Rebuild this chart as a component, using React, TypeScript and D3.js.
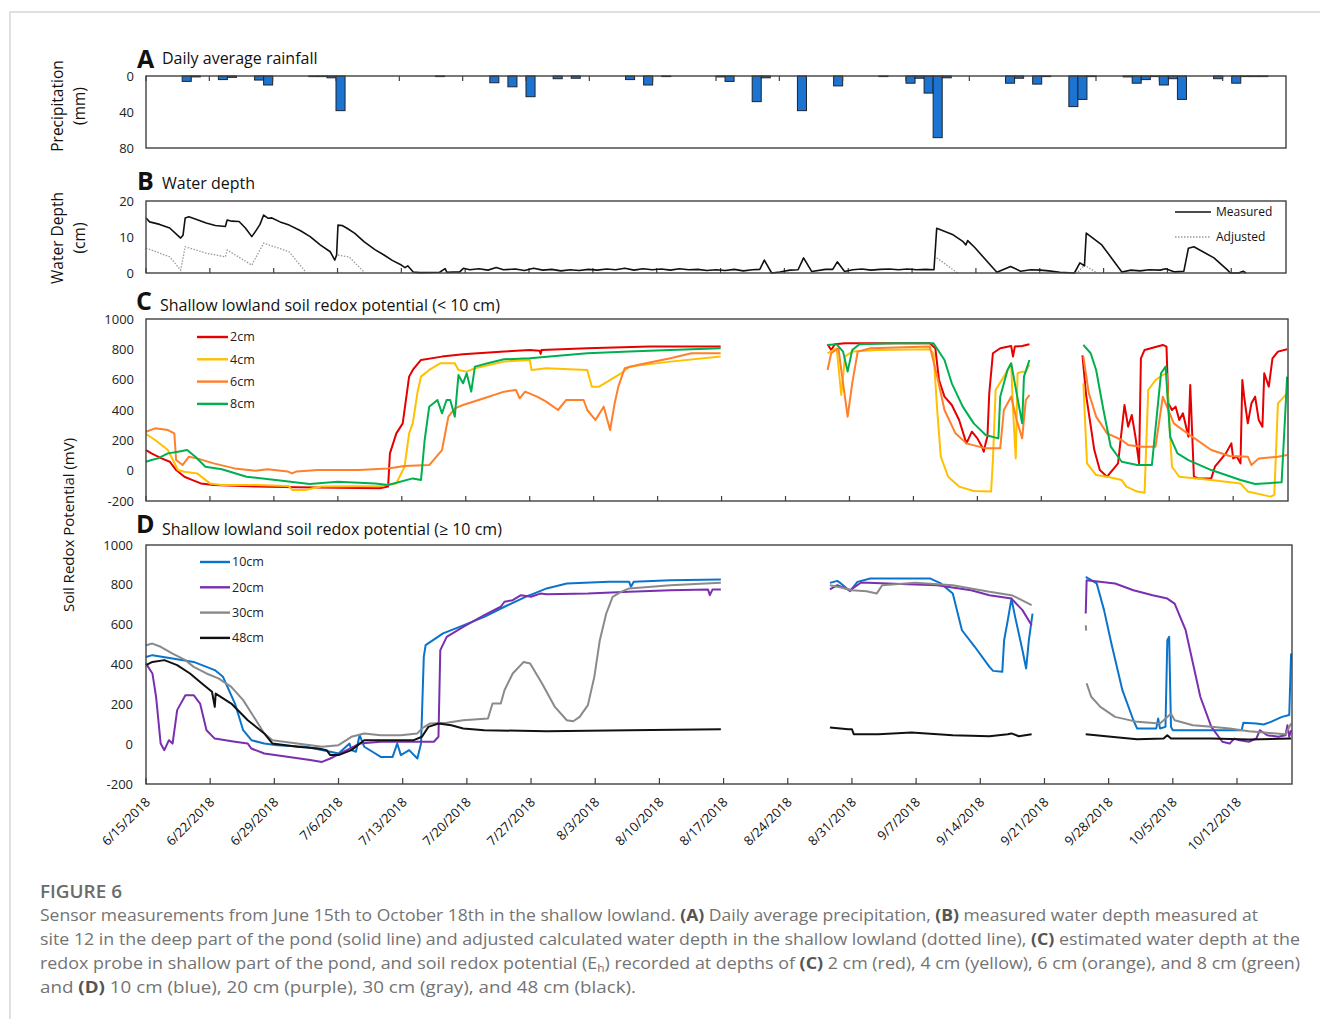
import React from "react";
import * as d3 from "d3";

// ---- time base -------------------------------------------------------------
const START = new Date(2018, 5, 15);
const dayToDate = (d: number) => new Date(START.getTime() + d * 86400000);
const END_A = dayToDate(126);
const END = dayToDate(125);

// weekly date labels under the bottom panel
const tickLabels = [
  "6/15/2018", "6/22/2018", "6/29/2018", "7/6/2018", "7/13/2018", "7/20/2018",
  "7/27/2018", "8/3/2018", "8/10/2018", "8/17/2018", "8/24/2018", "8/31/2018",
  "9/7/2018", "9/14/2018", "9/21/2018", "9/28/2018", "10/5/2018", "10/12/2018",
];
const parseLabel = (s: string) => {
  const [m, d, y] = s.split("/").map(Number);
  return new Date(y, m - 1, d);
};

// ---- A: daily rainfall (day offset from 6/15, mm) -------------------------
const rainDays = [4, 5, 8, 9, 12, 13, 18, 19, 20, 21, 32, 38, 40, 42, 45, 47, 53, 55, 57, 63, 64, 67, 68, 72, 76, 81, 84, 85, 86, 87, 88, 95, 96, 98, 99, 102, 103, 104, 108, 109, 110, 111, 112, 113, 114, 118, 120, 121, 122, 123];
const rainMm = [6, 1, 4, 1.5, 4.5, 10, 0.5, 0.5, 2, 38.5, 0.5, 7.5, 12, 23, 3, 2.5, 4, 10, 0.5, 1, 6, 28.5, 2, 38.5, 11, 0.5, 8, 2.5, 19, 68.5, 2, 8, 2.5, 9, 0.5, 34, 26, 0.5, 1, 8, 4, 0.5, 10, 3, 26, 3, 8, 0.5, 0.5, 0.5];
const rainTicks = [0, 40, 80];

// ---- B: water depth (day offset, cm); null breaks a line ------------------
type Pt = [number, number] | null;
const depthMeasured: Pt[] = [
  [0, 15.3], [0.4, 14.2], [1.5, 13.5], [2.6, 12.5], [3.8, 9.7], [4.06, 10.5], [4.3, 15.3], [4.7, 15.6], [5.4, 15.0],
  [6.6, 13.9], [7.6, 13.2], [8.7, 12.9], [8.9, 14.7], [9.4, 14.4], [10.2, 14.3], [10.9, 12.5], [11.6, 10.1], [12.1, 11.9],
  [12.5, 13.5], [12.9, 16.1], [13.4, 15.2], [13.8, 15.3], [14.7, 14.2], [15.7, 13.3], [16.9, 11.8], [18, 10.1],
  [19.1, 7.8], [20.2, 5.9], [20.7, 3.6], [20.9, 5], [21.05, 13.3], [21.5, 13.2], [22, 12.5], [22.9, 11.0], [23.9, 8.7],
  [25.1, 6.5], [26.1, 5], [27, 3.5], [28, 2.2], [28.4, 1.5], [28.7, 2.0], [29.3, 0.3], [30, 0.1], [32.2, 0.2],
  [32.8, 1.2], [33, 0.2], [34.4, 0.3], [34.8, 1.3], [35.5, 0.9], [36.5, 1.2], [37.5, 0.8], [38.4, 1.5], [39.2, 0.9],
  [40.5, 1.1], [41.5, 0.7], [42.5, 1.3], [43.5, 0.8], [44.5, 1.0], [45.5, 0.6], [46.5, 0.9], [47.5, 0.7], [48.5, 1.0],
  [49.5, 0.8], [50.5, 1.1], [51.5, 0.9], [52.5, 1.3], [53.5, 0.8], [54.5, 1.2], [55.5, 0.9], [56.5, 1.1], [57.5, 0.8],
  [58.5, 1.2], [59.5, 0.9], [60.5, 1.0], [61.5, 0.7], [62.5, 0.9], [63.5, 0.7], [64.5, 1.0], [65.5, 0.6], [66.5, 0.9],
  [67.3, 1.0], [67.8, 3.6], [68.6, 0], [69.5, 0.3], [70.6, 0.8], [71.5, 0.9], [72.1, 4.2], [73, 0.4], [74.5, 1.0],
  [75.3, 1.0], [75.8, 3.1], [76.6, 0.4], [77.5, 0.9], [78.5, 1.1], [79.5, 0.8], [80.5, 1.0], [81.5, 1.1], [82.5, 0.9],
  [83.5, 1.1], [84.5, 0.9], [85.5, 1.0], [86.4, 0.9], [86.7, 12.4], [88.5, 10.6], [89.6, 8.7], [89.9, 7.8], [90.1, 9.0],
  [90.9, 7.0], [92.9, 1.3], [93.3, 0.2], [94.8, 1.8], [95.9, 0.5], [97, 0.9], [98.1, 0.8], [99, 0.6], [100.2, 0.2],
  [101.8, 0], [102.4, 2.8], [102.9, 2.0], [103.1, 11.1], [104.8, 7.8], [107, 0.3], [108, 0.8], [109, 0.6], [110, 0.9],
  [111.2, 0.8], [111.8, 1.2], [112.8, 0.3], [113.8, 0.5], [114.3, 6.9], [114.9, 7.3], [117.1, 4.2], [118.6, 0.8],
  [118.9, 0], [119.8, 0], [120.3, 0.5], [120.6, 0],
];
const depthAdjusted: Pt[] = [
  [0, 6.9], [1, 6.0], [2.6, 4.5], [3.8, 0.8], [4.3, 7.3], [6.6, 5.5], [8.7, 4.5], [8.9, 6.4], [11.6, 2.2], [12.9, 8.3],
  [15.7, 5.9], [17.5, 0.3], null, [21.05, 5.0], [22.3, 4.4], [23.9, 0.3], null,
  [86.7, 4.2], [89, 0], null, [102.2, 0.3], [102.9, 2.2], [104.3, 0],
];
const depthTicks = [0, 10, 20];

// ---- C: redox potential < 10 cm (day offset, mV) --------------------------
const redox2cm: Pt[] = [
  [0, 136], [0.6, 114], [1.7, 81], [2.6, 59], [3.3, 4], [4.2, -40], [5.1, -62], [6, -84], [7.4, -95], [12, -105],
  [16.5, -110], [21, -112], [25.6, -116], [26.5, -105], [26.7, 114], [27.4, 246], [28.1, 312], [28.8, 620], [29.2, 664],
  [30.1, 730], [32.4, 752], [34.7, 767], [39.2, 785], [42, 796], [43.1, 790], [43.2, 770], [43.3, 795], [48.3, 807],
  [55.1, 818], [62.9, 818], null,
  [74.6, 833], [75, 796], [75.4, 833], [76.5, 840], [80.1, 840], [85.8, 840], [86.4, 807], [86.8, 598], [87.4, 488],
  [88.2, 433], [89, 334], [89.8, 180], [90.4, 257], [91, 213], [91.5, 158], [91.7, 125], [91.9, 180], [92.1, 224],
  [92.3, 510], [92.7, 774], [93.5, 807], [94.7, 822], [94.9, 752], [95.1, 818], [95.9, 822], [96.7, 833], null,
  [102.5, 760], [102.9, 500], [103.8, 136], [104.4, 4], [105.2, -40], [106.4, 48], [107.1, 433], [107.5, 290],
  [107.9, 367], [108.3, 224], [108.7, 48], [108.9, 741], [109.3, 796], [111.3, 829], [111.7, 818], [111.9, 444],
  [112.3, 400], [112.7, 422], [113.1, 334], [113.5, 378], [114.1, 224], [114.3, 565], [114.7, -40], [115.2, -51],
  [116.6, -51], [117, 26], [118.2, 114], [118.8, 180], [119, 81], [119.4, 92], [119.8, 48], [120, 598], [120.2, 488],
  [120.6, 312], [121, 444], [121.4, 488], [121.8, 334], [122.2, 290], [122.4, 642], [122.9, 554], [123.3, 741],
  [123.9, 785], [124.9, 800],
];
const redox4cm: Pt[] = [
  [0, 242], [1, 202], [2.4, 136], [3.5, 4], [4.2, -7], [5.6, -18], [7, -84], [8.3, -95], [12, -95], [15.6, -101],
  [16, -127], [17.4, -127], [19.2, -105], [25.6, -101], [27.4, -84], [28.3, 26], [28.8, 246], [29.2, 312], [29.7, 510],
  [30.1, 620], [31, 664], [32.2, 708], [33.8, 708], [34.2, 664], [35.1, 653], [36, 675], [39.2, 719], [42, 730],
  [42.2, 664], [43.8, 675], [48.3, 664], [48.8, 554], [49.6, 554], [52, 642], [52.9, 686], [57.4, 719], [62.9, 752], null,
  [74.6, 774], [75.6, 807], [76.1, 499], [76.3, 620], [76.5, 752], [77.3, 785], [80.1, 796], [85.8, 800], [86.2, 774],
  [86.6, 400], [87, 92], [87.8, -40], [89, -105], [90.6, -134], [92.5, -138], [92.7, 70], [93, 532], [93.9, 620],
  [94.7, 708], [94.9, 400], [95.2, 81], [95.4, 642], [95.9, 653], [96.3, 653], [96.7, 700], null,
  [102.6, 576], [103, 48], [104, -29], [105.2, -40], [106.8, -62], [107.3, -105], [108.5, -138], [109.3, -145],
  [109.7, 532], [110.5, 598], [111.3, 631], [111.7, 642], [112.3, 26], [113.1, -40], [116.6, -62], [119.8, -84],
  [120.6, -138], [123.1, -171], [123.5, -160], [123.9, 444], [124.9, 510],
];
const redox6cm: Pt[] = [
  [0, 257], [1, 279], [2.4, 268], [3.1, 246], [3.3, 70], [4, 37], [4.7, 92], [5.6, 81], [7.4, 48], [9.7, 15], [12, 0],
  [13.3, 9], [15.5, -5], [16, -18], [16.5, -5], [18.8, 4], [23.3, 4], [26.5, 15], [28.3, 31], [31, 37], [32.4, 136],
  [33.1, 356], [33.8, 411], [34.7, 433], [37, 477], [39.2, 521], [40.5, 532], [40.9, 477], [41.5, 521], [42.8, 488],
  [43.8, 455], [45.1, 400], [46, 466], [47.9, 466], [48.3, 400], [49.2, 334], [50.1, 422], [50.8, 268], [51.3, 444],
  [51.7, 554], [52.4, 675], [53.8, 697], [57.4, 741], [59.7, 774], [62.9, 774], null,
  [74.6, 664], [75, 774], [75.8, 807], [76.1, 664], [76.8, 356], [77.3, 576], [77.9, 785], [79.3, 807], [85.8, 818],
  [86.6, 620], [87.4, 400], [88.6, 246], [89.8, 180], [91.9, 147], [93.5, 147], [93.9, 400], [94.7, 488], [95.3, 334],
  [95.9, 213], [96.3, 466], [96.7, 499], null,
  [102.6, 752], [103.2, 510], [104, 356], [105.2, 246], [106.8, 202], [107.5, 169], [108.9, 158], [110.5, 158],
  [111.3, 488], [112.5, 312], [114.5, 224], [116.6, 136], [118.6, 97], [120.6, 92], [121, 37], [121.8, 81],
  [123.9, 92], [124.9, 103],
];
const redox8cm: Pt[] = [
  [0, 59], [0.6, 70], [1.3, 81], [2.4, 114], [3.5, 125], [4.5, 136], [5.4, 92], [6.5, 26], [8.3, 9], [11, -40],
  [14.2, -62], [17.9, -88], [21, -73], [25.1, -84], [26.5, -95], [29.2, -51], [30.1, -62], [30.5, 202], [31, 422],
  [31.9, 466], [32.4, 378], [32.9, 466], [33.3, 466], [33.8, 356], [34.2, 631], [34.7, 576], [35.1, 642], [35.6, 521],
  [36, 686], [37.4, 708], [39.2, 734], [42, 741], [48.3, 774], [52.9, 785], [57.4, 796], [62.9, 807], null,
  [74.6, 829], [75.6, 833], [76.3, 785], [76.8, 653], [77.3, 796], [78.1, 833], [82.1, 840], [86.2, 840], [87.4, 730],
  [88.2, 576], [89.4, 422], [90.6, 312], [91.9, 235], [93.3, 213], [93.5, 488], [94.3, 664], [94.7, 708], [95.1, 576],
  [95.9, 312], [96.1, 620], [96.7, 730], null,
  [102.6, 829], [103.4, 774], [104, 664], [104.8, 400], [105.6, 158], [106.8, 59], [108.5, 37], [110.1, 37],
  [111.1, 642], [111.6, 686], [112.1, 224], [112.9, 114], [114.1, 70], [116.6, 4], [119.8, -62], [121.4, -88],
  [124.3, -77], [124.7, 378], [124.9, 620],
];

// ---- D: redox potential >= 10 cm (day offset, mV) -------------------------
const redox10cm: Pt[] = [
  [0, 438], [0.7, 447], [2.9, 430], [5.2, 413], [7.5, 372], [8.4, 338], [9.7, 204], [10.6, 70], [11.5, 20], [12.9, 3],
  [14.3, -5], [17.4, -13], [20.1, -38], [21, -47], [22.2, 3], [22.4, -30], [22.9, -38], [23.3, 45], [23.8, -13],
  [24.7, -38], [25.6, -64], [26.9, -64], [27.4, 3], [27.8, -55], [28.7, -30], [29.6, -72], [30, 3], [30.3, 438],
  [30.5, 497], [32.4, 556], [34.2, 589], [36.9, 639], [39.1, 690], [41.4, 740], [42.3, 756], [43.7, 782], [45.9, 807],
  [50.5, 815], [52.7, 815], [52.9, 790], [53.2, 815], [57.2, 823], [62.7, 827], null,
  [74.6, 810], [75.4, 820], [75.8, 807], [76.8, 768], [77.6, 815], [79, 832], [85.5, 832], [86.7, 807], [88, 756],
  [89, 572], [90.4, 489], [92, 388], [92.4, 368], [93.4, 363], [93.6, 522], [94, 623], [94.4, 731], [94.8, 639],
  [95.6, 472], [96, 380], [96.3, 522], [96.7, 656], null,
  [102.5, 840], [103.7, 807], [104.5, 673], [105.3, 505], [106.5, 271], [107.7, 120], [108.1, 79], [110.2, 79],
  [110.4, 129], [110.6, 79], [111.2, 87], [111.4, 522], [111.6, 539], [111.8, 87], [112, 70], [119.5, 70], [119.7, 107],
  [121.1, 104], [121.9, 99], [122.7, 112], [123.9, 137], [124.7, 146], [124.9, 455],
];
const redox20cm: Pt[] = [
  [0, 405], [0.7, 355], [1.1, 238], [1.6, 3], [2, -30], [2.5, 20], [2.9, 3], [3.4, 171], [4.3, 246], [5.2, 246],
  [5.9, 204], [6.6, 70], [7.5, 28], [9.7, 12], [11.1, 3], [11.5, -22], [12.9, -47], [15.6, -64], [17.9, -80],
  [19.2, -89], [20.1, -72], [21.9, -30], [23.3, 3], [25.6, 12], [31.4, 12], [31.9, 37], [32.1, 472], [32.8, 539],
  [34.6, 589], [36.9, 648], [38.7, 690], [39.1, 715], [40, 723], [40.9, 748], [42, 740], [43, 756], [43.7, 753],
  [48.2, 756], [52.7, 765], [57.2, 773], [61.3, 777], [61.5, 748], [61.8, 777], [62.7, 777], null,
  [74.6, 777], [75.4, 798], [76.8, 773], [78, 812], [83.1, 803], [86.3, 798], [90, 773], [92, 748], [94.4, 731],
  [95.6, 673], [96.6, 597], null,
  [102.5, 656], [102.6, 823], [105.7, 807], [107.7, 773], [109.8, 748], [111.4, 731], [112.2, 706], [113.4, 572],
  [114.2, 405], [115, 238], [116.2, 87], [117.4, 12], [118.2, 3], [118.7, 28], [119.3, 20], [120.3, 12], [121.1, 28],
  [121.5, 70], [122.3, 45], [123.5, 37], [124.3, 45], [124.5, 95], [124.7, 37], [124.9, 70],
];
const redox30cm: Pt[] = [
  [0, 497], [0.7, 505], [1.6, 489], [2.9, 455], [4.3, 422], [5.2, 388], [6.6, 355], [7.9, 330], [9.3, 288],
  [10.6, 221], [12, 120], [12.9, 54], [13.8, 20], [16.5, 3], [19.2, -13], [21, -5], [22.4, 37], [23.8, 54], [25.6, 45],
  [27.8, 45], [29.6, 54], [30.1, 79], [31, 104], [32.8, 107], [34.6, 120], [37.3, 129], [37.8, 204], [38.7, 204],
  [39.1, 271], [40, 355], [41.2, 413], [41.9, 405], [43.2, 305], [44.6, 187], [45.9, 120], [46.6, 115], [47.3, 137],
  [48.2, 196], [48.9, 338], [49.5, 522], [50.2, 656], [50.9, 740], [51.8, 765], [52.7, 782], [57.2, 798], [62.7, 810], null,
  [74.6, 798], [75.8, 787], [77, 773], [78.6, 768], [79.7, 756], [80.3, 798], [83.9, 810], [88, 798], [92, 765],
  [94.4, 748], [95.2, 731], [96.6, 698], null,
  [102.5, 597], [102.55, 570], null,
  [102.6, 305], [103.1, 238], [104.1, 187], [105.7, 137], [108.1, 112], [110.6, 104], [111.4, 137], [111.8, 154],
  [112.2, 120], [114.2, 95], [116.2, 87], [118.2, 79], [120.3, 65], [122.3, 57], [124.3, 50], [124.9, 104],
];
const redox48cm: Pt[] = [
  [0, 397], [0.7, 413], [2, 422], [3.4, 397], [4.8, 355], [6.1, 305], [7.2, 263], [7.5, 187], [7.6, 254], [9.3, 204],
  [11.1, 120], [12.9, 54], [13.8, 3], [16.5, -13], [18.8, -22], [19.7, -30], [20.1, -55], [21, -55], [22.4, -30],
  [23.8, 20], [25.6, 20], [29.2, 20], [30.1, 37], [30.8, 87], [31.9, 104], [33.3, 95], [34.6, 79], [36.9, 70],
  [43.7, 65], [52.7, 70], [62.7, 75], null,
  [74.6, 84], [76.6, 75], [77, 75], [77.2, 50], [79.9, 50], [83.5, 59], [88, 45], [92, 40], [94, 50], [94.4, 54],
  [95.2, 40], [96.6, 50], null,
  [102.5, 50], [106.1, 33], [108.1, 25], [111, 28], [111.4, 45], [111.8, 28], [116.2, 28], [120.3, 23], [124.9, 28],
];
const redoxTicks = [-200, 0, 200, 400, 600, 800, 1000];

const shallowNames = ["2cm", "4cm", "6cm", "8cm"];
const shallowColors = ["#e60000", "#ffc000", "#ff7f2a", "#00b050"];
const shallowSeries = [redox2cm, redox4cm, redox6cm, redox8cm];
const deepNames = ["10cm", "20cm", "30cm", "48cm"];
const deepColors = ["#0a74cc", "#7a2fb0", "#8a8a8a", "#111111"];
const deepSeries = [redox10cm, redox20cm, redox30cm, redox48cm];

// ---- layout ----------------------------------------------------------------
const PA = { left: 146, right: 1286, top: 76, bottom: 148 };
const PB = { left: 146, right: 1286, top: 201, bottom: 273 };
const PC = { left: 146, right: 1288, top: 319, bottom: 501 };
const PD = { left: 146, right: 1292, top: 545, bottom: 784 };
const FRAME = "#404040";
const FONT = "'Open Sans', 'DejaVu Sans', sans-serif";

type Seg = { t: string; b?: boolean; sub?: boolean };
const captionLines: { segs: Seg[]; w: number }[] = [
  {
    w: 1218,
    segs: [
      { t: "Sensor measurements from June 15th to October 18th in the shallow lowland. " },
      { t: "(A)", b: true },
      { t: " Daily average precipitation, " },
      { t: "(B)", b: true },
      { t: " measured water depth measured at" },
    ],
  },
  {
    w: 1260,
    segs: [
      { t: "site 12 in the deep part of the pond (solid line) and adjusted calculated water depth in the shallow lowland (dotted line), " },
      { t: "(C)", b: true },
      { t: " estimated water depth at the" },
    ],
  },
  {
    w: 1260,
    segs: [
      { t: "redox probe in shallow part of the pond, and soil redox potential (E" },
      { t: "h", sub: true },
      { t: ") recorded at depths of " },
      { t: "(C)", b: true },
      { t: " 2 cm (red), 4 cm (yellow), 6 cm (orange), and 8 cm (green)" },
    ],
  },
  {
    w: 596,
    segs: [
      { t: "and " },
      { t: "(D)", b: true },
      { t: " 10 cm (blue), 20 cm (purple), 30 cm (gray), and 48 cm (black)." },
    ],
  },
];

function makeLine(x: d3.ScaleTime<number, number>, y: d3.ScaleLinear<number, number>) {
  return d3
    .line<Pt>()
    .defined((d) => d !== null)
    .x((d) => x(dayToDate((d as [number, number])[0])))
    .y((d) => y((d as [number, number])[1]));
}

function Frame({ p }: { p: typeof PA }) {
  return (
    <rect x={p.left} y={p.top} width={p.right - p.left} height={p.bottom - p.top} fill="none" stroke={FRAME} strokeWidth={1.4} />
  );
}

function YLabels({ ticks, y, x }: { ticks: number[]; y: (v: number) => number; x: number }) {
  return (
    <g fontSize={13} fill="#222" textAnchor="end">
      {ticks.map((t) => (
        <text key={t} x={x} y={y(t)} dy="0.35em">
          {t}
        </text>
      ))}
    </g>
  );
}

function Title({ letter, text, x, lx, ly, ty }: { letter: string; text: string; x: number; lx: number; ly: number; ty: number }) {
  return (
    <g fill="#111">
      <text x={lx} y={ly} fontSize={25} fontWeight={700}>
        {letter}
      </text>
      <text x={x} y={ty} fontSize={16}>
        {text}
      </text>
    </g>
  );
}

export default function App() {
  const xA = d3.scaleTime().domain([START, END_A]).range([PA.left, PA.right]);
  const xB = d3.scaleTime().domain([START, END]).range([PB.left, PB.right]);
  const xC = d3.scaleTime().domain([START, END]).range([PC.left, PC.right]);
  const xD = d3.scaleTime().domain([START, END]).range([PD.left, PD.right]);
  const yA = d3.scaleLinear().domain([0, 80]).range([PA.top, PA.bottom]);
  const yB = d3.scaleLinear().domain([0, 20]).range([PB.bottom, PB.top]);
  const yC = d3.scaleLinear().domain([-200, 1000]).range([PC.bottom, PC.top]);
  const yD = d3.scaleLinear().domain([-200, 1000]).range([PD.bottom, PD.top]);

  const tickDates = tickLabels.map(parseLabel);
  const lineB = makeLine(xB, yB);
  const lineC = makeLine(xC, yC);
  const lineD = makeLine(xD, yD);

  return (
    <svg
      width={1320}
      height={1019}
      style={{ position: "absolute", left: 0, top: 0, background: "#fff" }}
      fontFamily={FONT}
    >
      <rect x={0} y={0} width={1320} height={1019} fill="#fff" />
      {/* page border */}
      <path d="M10,1019 V12 H1320" fill="none" stroke="#d6d6d6" strokeWidth={1.5} />

      {/* axis titles */}
      <g fontSize={15.5} fill="#111" textAnchor="middle">
        <text transform="translate(58,106) rotate(-90)" dy="0.35em">Precipitation</text>
        <text transform="translate(80,106) rotate(-90)" dy="0.35em">(mm)</text>
        <text transform="translate(58,238) rotate(-90)" dy="0.35em">Water Depth</text>
        <text transform="translate(80,238) rotate(-90)" dy="0.35em">(cm)</text>
        <text transform="translate(69,525) rotate(-90)" dy="0.35em" fontSize={15}>Soil Redox Potential (mV)</text>
      </g>

      {/* ---------------- A: rainfall ---------------- */}
      <Title letter="A" text="Daily average rainfall" lx={137} ly={68} x={162} ty={64} />
      <YLabels ticks={rainTicks} y={yA} x={134} />
      <g>
        {rainDays.map((d, i) => {
          const x0 = xA(dayToDate(d));
          const x1 = xA(dayToDate(d + 1));
          return (
            <rect
              key={d}
              x={x0}
              y={yA(0)}
              width={x1 - x0}
              height={Math.max(yA(rainMm[i]) - yA(0), 0.6)}
              fill="#1b74d1"
              stroke="#1c2430"
              strokeWidth={1}
            />
          );
        })}
      </g>
      <g stroke={FRAME} strokeWidth={1.2}>
        {tickDates.map((t, i) => (
          <line key={i} x1={xA(t)} x2={xA(t)} y1={PA.top} y2={PA.top + 5} />
        ))}
      </g>
      <Frame p={PA} />

      {/* ---------------- B: water depth ---------------- */}
      <Title letter="B" text="Water depth" lx={137} ly={190} x={162} ty={189} />
      <YLabels ticks={depthTicks} y={yB} x={134} />
      <g stroke={FRAME} strokeWidth={1.2}>
        {tickDates.map((t, i) => (
          <line key={i} x1={xB(t)} x2={xB(t)} y1={PB.bottom} y2={PB.bottom - 5} />
        ))}
      </g>
      <path d={lineB(depthAdjusted) ?? ""} fill="none" stroke="#9a9a9a" strokeWidth={1.3} strokeDasharray="1.5,1.5" />
      <path d={lineB(depthMeasured) ?? ""} fill="none" stroke="#111" strokeWidth={1.6} strokeLinejoin="round" />
      <Frame p={PB} />
      <g fontSize={12} fill="#111">
        <line x1={1175} x2={1211} y1={212} y2={212} stroke="#111" strokeWidth={1.6} />
        <text x={1216} y={212} dy="0.35em">Measured</text>
        <line x1={1175} x2={1211} y1={237} y2={237} stroke="#9a9a9a" strokeWidth={1.3} strokeDasharray="1.5,1.5" />
        <text x={1216} y={237} dy="0.35em">Adjusted</text>
      </g>

      {/* ---------------- C: shallow redox ---------------- */}
      <Title letter="C" text="Shallow lowland soil redox potential (< 10 cm)" lx={136} ly={310} x={160} ty={311} />
      <YLabels ticks={redoxTicks} y={yC} x={134} />
      <g stroke={FRAME} strokeWidth={1.2}>
        {tickDates.map((t, i) => (
          <line key={i} x1={xC(t)} x2={xC(t)} y1={PC.bottom} y2={PC.bottom - 5} />
        ))}
      </g>
      {shallowSeries.map((s, i) => (
        <path key={i} d={lineC(s) ?? ""} fill="none" stroke={shallowColors[i]} strokeWidth={2} strokeLinejoin="round" />
      ))}
      <Frame p={PC} />
      <g fontSize={12.5} fill="#222">
        {shallowNames.map((n, i) => (
          <g key={n}>
            <line x1={197} x2={228} y1={337 + i * 22.3} y2={337 + i * 22.3} stroke={shallowColors[i]} strokeWidth={2.4} />
            <text x={230} y={337 + i * 22.3} dy="0.35em">{n}</text>
          </g>
        ))}
      </g>

      {/* ---------------- D: deep redox ---------------- */}
      <Title letter="D" text="Shallow lowland soil redox potential (≥ 10 cm)" lx={136} ly={533} x={162} ty={535} />
      <YLabels ticks={redoxTicks} y={yD} x={133} />
      <g stroke={FRAME} strokeWidth={1.2}>
        {tickDates.map((t, i) => (
          <line key={i} x1={xD(t)} x2={xD(t)} y1={PD.bottom} y2={PD.bottom - 6} />
        ))}
      </g>
      {deepSeries.map((s, i) => (
        <path key={i} d={lineD(s) ?? ""} fill="none" stroke={deepColors[i]} strokeWidth={2} strokeLinejoin="round" />
      ))}
      <Frame p={PD} />
      <g fontSize={12.5} fill="#222">
        {deepNames.map((n, i) => (
          <g key={n}>
            <line x1={200} x2={230} y1={562 + i * 25.3} y2={562 + i * 25.3} stroke={deepColors[i]} strokeWidth={2.4} />
            <text x={232} y={562 + i * 25.3} dy="0.35em">{n}</text>
          </g>
        ))}
      </g>
      <g fontSize={13} fill="#111" textAnchor="end">
        {tickDates.map((t, i) => (
          <text key={i} transform={`translate(${xD(t) + 5},${803}) rotate(-45)`}>
            {tickLabels[i]}
          </text>
        ))}
      </g>

      {/* ---------------- caption ---------------- */}
      <text x={40} y={898} fontSize={17.5} fontWeight={600} fill="#6b6b6b" textLength={82} lengthAdjust="spacingAndGlyphs">
        FIGURE 6
      </text>
      <g fontSize={16.5} fill="#737373">
        {captionLines.map((ln, li) => (
          <text key={li} x={40} y={921 + li * 24} textLength={ln.w} lengthAdjust="spacingAndGlyphs">
            {ln.segs.map((s, si) =>
              s.b ? (
                <tspan key={si} fontWeight={700} fill="#555">
                  {s.t}
                </tspan>
              ) : s.sub ? (
                <tspan key={si} fontSize={11} dy={3}>
                  {s.t}
                </tspan>
              ) : si > 0 && ln.segs[si - 1].sub ? (
                <tspan key={si} dy={-3}>
                  {s.t}
                </tspan>
              ) : (
                <tspan key={si}>{s.t}</tspan>
              )
            )}
          </text>
        ))}
      </g>
    </svg>
  );
}
